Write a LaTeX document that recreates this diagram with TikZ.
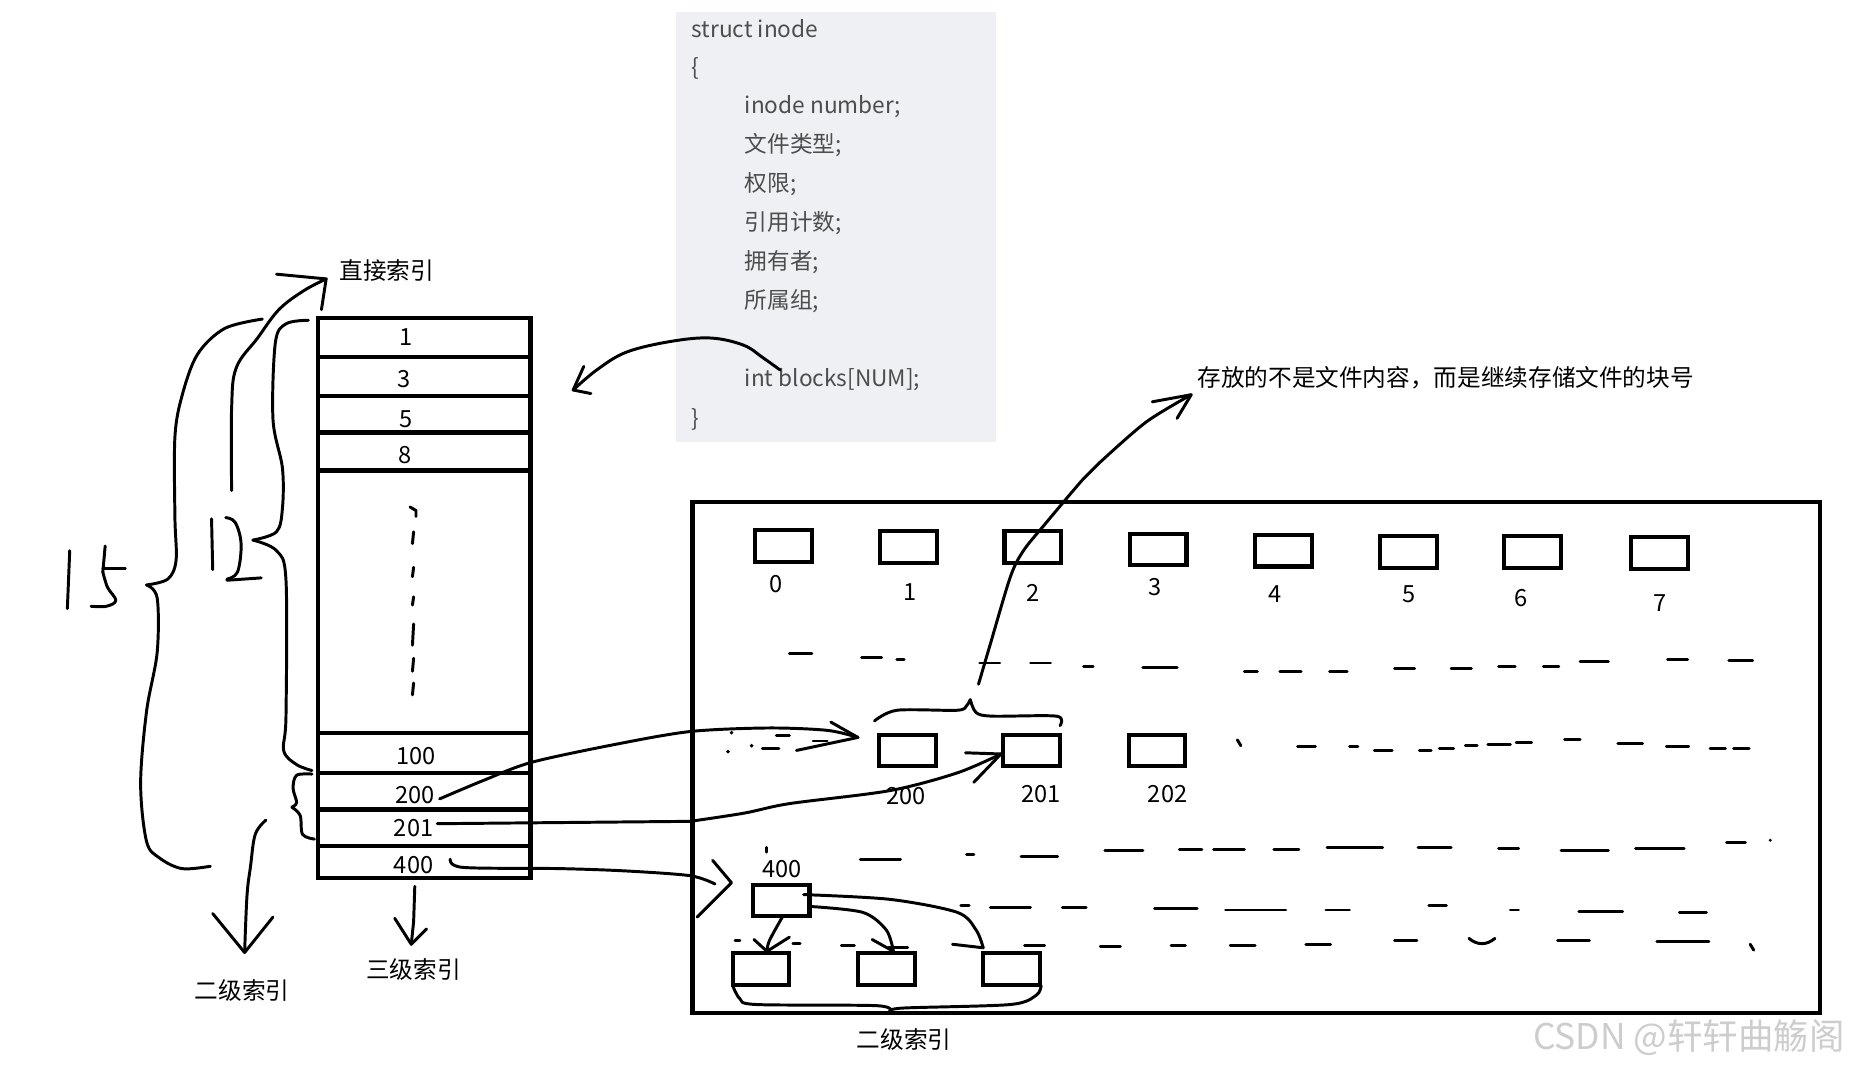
\documentclass[tikz,border=0pt]{standalone}
\usepackage{fontspec}
\setmainfont{Noto Sans CJK SC}
\definecolor{codebg}{RGB}{238,240,244}
\definecolor{codefg}{RGB}{77,77,77}
\definecolor{wmark}{RGB}{205,205,205}
\begin{document}
\begin{tikzpicture}[x=0.6pt,y=-0.6pt,
  hand/.style={line width=1.5pt,line cap=round,line join=round},
  tbl/.style={line width=2.2pt},
  blk/.style={line width=2.1pt,minimum width=28.8pt,minimum height=16pt,inner sep=0,draw},
  dsh/.style={line width=1.5pt,line cap=round},
  lbl/.style={font=\fontsize{12}{14}\selectfont,inner sep=0},
  code/.style={font=\fontsize{11.5}{13}\selectfont,text=codefg,inner sep=0,anchor=west}]
\useasboundingbox (0,0) rectangle (1568,905);
\fill[white] (0,0) rectangle (1568,905);

% ---------- code box ----------
\fill[codebg] (572,10) rectangle (843,374);
\node[code] (c1) at (585,24) {struct inode};
\node[code] (c2) at (585,58) {\{};
\node[code] (c3) at (630,90) {inode number;};
\node[code] (c4) at (630,123) {文件类型;};
\node[code] (c5) at (630,156) {权限;};
\node[code] (c6) at (630,189) {引用计数;};
\node[code] (c7) at (630,222) {拥有者;};
\node[code] (c8) at (630,255) {所属组;};
\node[code] (c9) at (630,321) {int blocks[NUM];};
\node[code] (c10) at (585,355) {\}};

% ---------- inode block table ----------
\draw[tbl] (269,269) rectangle (449,743);
\foreach \y in {302,335,366,398,620,654,685,716} \draw[tbl] (269,\y) -- (449,\y);
\node[lbl] (r1) at (344,285) {1};
\node[lbl] (r3) at (342,321) {3};
\node[lbl] (r5) at (344,355) {5};
\node[lbl] (r8) at (343,385) {8};
\node[lbl] (r100) at (352,640) {100};
\node[lbl] (r200) at (351,673) {200};
\node[lbl] (r201) at (350,701) {201};
\node[lbl] (r400) at (350,732) {400};
% dotted vertical
\draw[hand] (347,429) -- (352,432) -- (352,437);
\foreach \a/\b in {450/460,480/488,505/512,528/546,557/568,578/588} \draw[hand] (350,\a) -- (349,\b);

% ---------- left braces and labels ----------
\draw[hand] plot[smooth,tension=0.55] coordinates {(222,270) (190,278) (167,300) (154,335) (148,370) (148,437) (149,474) (142,490) (124,495)};
\draw[hand] plot[smooth,tension=0.55] coordinates {(124,495) (133,506) (133,552) (124,602) (119,663) (124,712) (135,726) (154,735) (178,733)};
\draw[hand] plot[smooth,tension=0.55] coordinates {(261,271) (242,274) (233,290) (231,355) (239,396) (239,430) (234,450) (214,457)};
\draw[hand] plot[smooth,tension=0.55] coordinates {(214,457) (234,466) (242,491) (242,606) (240,635) (251,647) (264,652)};
\draw[hand] plot[smooth,tension=0.55] coordinates {(264,655) (251,656) (248,667) (251,679) (247,683)};
\draw[hand] plot[smooth,tension=0.55] coordinates {(247,683) (254,690) (256,706) (266,710)};
% "15"
\draw[hand] (59,466) -- (57,515);
\draw[hand] (89,462) -- (87,484);
\draw[hand] (87,481) -- (106,481);
\draw[hand] plot[smooth,tension=0.6] coordinates {(87,484) (91,497) (98,508) (90,513) (77,513)};
% "12"
\draw[hand] (179,439) -- (180,482);
\draw[hand] plot[smooth,tension=0.6] coordinates {(191,438) (199,442) (204,460) (201,484) (192,490)};
\draw[hand] (192,491) -- (221,489);

% arrow to 直接索引
\node[lbl,anchor=west] (direct) at (287,229) {直接索引};
\coordinate (dtip) at (276,236);
\draw[hand] plot[smooth,tension=0.6] coordinates {(196,415) (196,345) (200,311) (218,286) (236,262) (257,246) (dtip)};
\draw[hand] (234,232) -- (dtip) -- (272,262);

% arrow to 二级索引 (left)
\node[lbl] (second) at (205,838) {二级索引};
\coordinate (stip) at (207,806);
\draw[hand] plot[smooth,tension=0.6] coordinates {(225,694) (216,706) (212,733) (209,758) (stip)};
\draw[hand] (180,773) -- (stip) -- (231,776);

% arrow to 三级索引
\node[lbl] (third) at (350,820) {三级索引};
\coordinate (ttip) at (348,799);
\draw[hand] (351,750) -- (350,780) -- (ttip);
\draw[hand] (334,777) -- (ttip) -- (361,786);

% curved arrow from int blocks to table
\coordinate (ctip) at (485,330);
\draw[hand] plot[smooth,tension=0.6] coordinates {(660,313) (646,303) (629,292) (601,286) (567,289) (530,298) (505,313) (ctip)};
\draw[hand] (494,310) -- (ctip) -- (500,333);

% ---------- disk ----------
\draw[line width=2.1pt] (586,425) rectangle (1540,857);
% top row blocks
\foreach \i/\x/\y/\lx/\ly in {0/663/462/657/494, 1/769/463/770/501, 2/874/463/874/502, 3/980/465/977/497, 4/1086/466/1079/503, 5/1192/467/1192/503, 6/1297/467/1287/506, 7/1404/468/1405/510}{
  \node[blk] (b\i) at (\x,\y) {};
  \node[lbl] (lb\i) at (\lx,\ly) {\i};
}
% second row
\node[blk] (b200) at (768,635) {};
\node[blk] (b201) at (873,635) {};
\node[blk] (b202) at (979,635) {};
\node[lbl] (l200) at (767,674) {200};
\node[lbl] (l201) at (881,672) {201};
\node[lbl] (l202) at (988,672) {202};
% third row
\node[blk] (b400) at (661,762) {};
\node[lbl] (l400) at (662,735) {400};
\node[blk] (c1b) at (644,820) {};
\node[blk] (c2b) at (750,820) {};
\node[blk] (c3b) at (856,820) {};
\node[lbl] (disk2) at (765,880) {二级索引};

% brace over 200/201
\draw[hand] plot[smooth,tension=0.5] coordinates {(740,610) (759,601) (810,601) (818,597) (821,592)};
\draw[hand] plot[smooth,tension=0.5] coordinates {(821,592) (826,603) (840,606) (894,606) (897,614)};
% brace under 2nd-level boxes
\draw[hand] plot[smooth,tension=0.5] coordinates {(620,834) (626,845) (640,850) (742,851) (753,856)};
\draw[hand] plot[smooth,tension=0.5] coordinates {(753,856) (764,853) (855,850) (877,842) (881,834)};

% annotation arrow
\node[lbl,anchor=west] (note) at (1013,320) {存放的不是文件内容，而是继续存储文件的块号};
\coordinate (ntip) at (1008,334);
\draw[hand] plot[smooth,tension=0.5] coordinates {(828,579) (838,545) (855,488) (866,466) (883,445) (916,406) (931,391) (970,357) (ntip)};
\draw[hand] (975,340) -- (ntip) -- (996,354);

% connector 200 -> block 200 region
\coordinate (a1tip) at (726,624);
\draw[hand] plot[smooth,tension=0.5] coordinates {(372,676) (410,660) (450,645) (520,630) (584,619) (650,616) (700,618) (a1tip)};
\draw[hand] (703,611) -- (a1tip) -- (674,635);
\foreach \a/\b/\y in {657/668/622,645/659/633,688/700/627} \draw[dsh] (\a,\y) -- (\b,\y);
\fill (619,620) circle (1pt) (636,631) circle (1pt) (616,636) circle (1pt);

% connector 201 -> block 201
\coordinate (a2tip) at (847,638);
\draw[hand] (370,697) -- (584,695);
\draw[hand] plot[smooth,tension=0.5] coordinates {(584,695) (630,688) (668,680) (753,669) (810,654) (a2tip)};
\draw[hand] (817,637) -- (a2tip) -- (824,662);

% connector 400 -> disk
\coordinate (a3tip) at (619,747);
\draw[hand] plot[smooth,tension=0.5] coordinates {(381,727) (392,734) (474,735) (530,737) (584,741) (605,748)};
\draw[hand] (603,728) -- (a3tip) -- (590,776);

% 400 block -> 2nd-level blocks
\coordinate (t1) at (649,805);
\draw[hand] plot[smooth,tension=0.5] coordinates {(662,776) (651,796) (t1)};
\draw[hand] (638,795) -- (t1) -- (668,793);
\coordinate (t2) at (756,805);
\draw[hand] plot[smooth,tension=0.5] coordinates {(685,767) (730,772) (750,787) (t2)};
\draw[hand] (738,795) -- (t2);
\draw[hand] (752,802) -- (768,802);
\coordinate (t3) at (832,802);
\draw[hand] plot[smooth,tension=0.5] coordinates {(680,757) (753,761) (810,772) (826,787) (t3)};
\draw[hand] (806,799) -- (t3);

% scattered dash rows
\foreach \a/\b/\y in {
 668/687/553, 729/746/556, 759/765/558, 829/846/561, 872/889/561, 917/925/564, 967/996/565,
 1053/1064/568, 1083/1101/568, 1125/1140/568, 1180/1197/566, 1228/1245/566, 1268/1282/564,
 1306/1319/564, 1337/1361/560, 1411/1428/558, 1463/1483/559,
 1098/1113/632, 1142/1149/632, 1163/1178/635, 1201/1211/635, 1218/1230/633, 1240/1250/631,
 1259/1278/630, 1283/1296/628, 1324/1337/626, 1369/1390/629, 1410/1429/632, 1447/1460/633, 1467/1480/633,
 728/762/727, 818/824/723, 864/895/725, 935/967/720, 998/1017/719, 1027/1053/719, 1078/1099/719,
 1123/1170/717, 1200/1228/717, 1268/1285/718, 1321/1361/720, 1384/1425/718, 1461/1477/713,
 813/820/766, 838/872/768, 899/919/768, 977/1013/769, 1037/1088/770, 1122/1142/770, 1209/1224/766,
 1278/1285/770, 1336/1373/771, 1421/1444/772,
 622/626/796, 671/677/798, 712/723/800, 867/884/800, 931/948/801, 991/1003/800, 1041/1062/800,
 1105/1126/799, 1180/1199/796, 1318/1345/796, 1402/1446/797}
 \draw[dsh] (\a,\y) -- (\b,\y);
\draw[dsh] (1243,794) .. controls (1250,800) and (1258,800) .. (1265,794);
\draw[dsh] (1047,626) -- (1050,631);
\draw[dsh] (1481,799) -- (1484,804);
\draw[dsh] (649,717) -- (649,721);
\fill (1498,711) circle (0.8pt);

% watermark
\node[inner sep=0,anchor=west,text=wmark,font=\fontsize{18}{20}\selectfont] (wm) at (1297,878) {CSDN @轩轩曲觞阁};
\end{tikzpicture}
\end{document}
